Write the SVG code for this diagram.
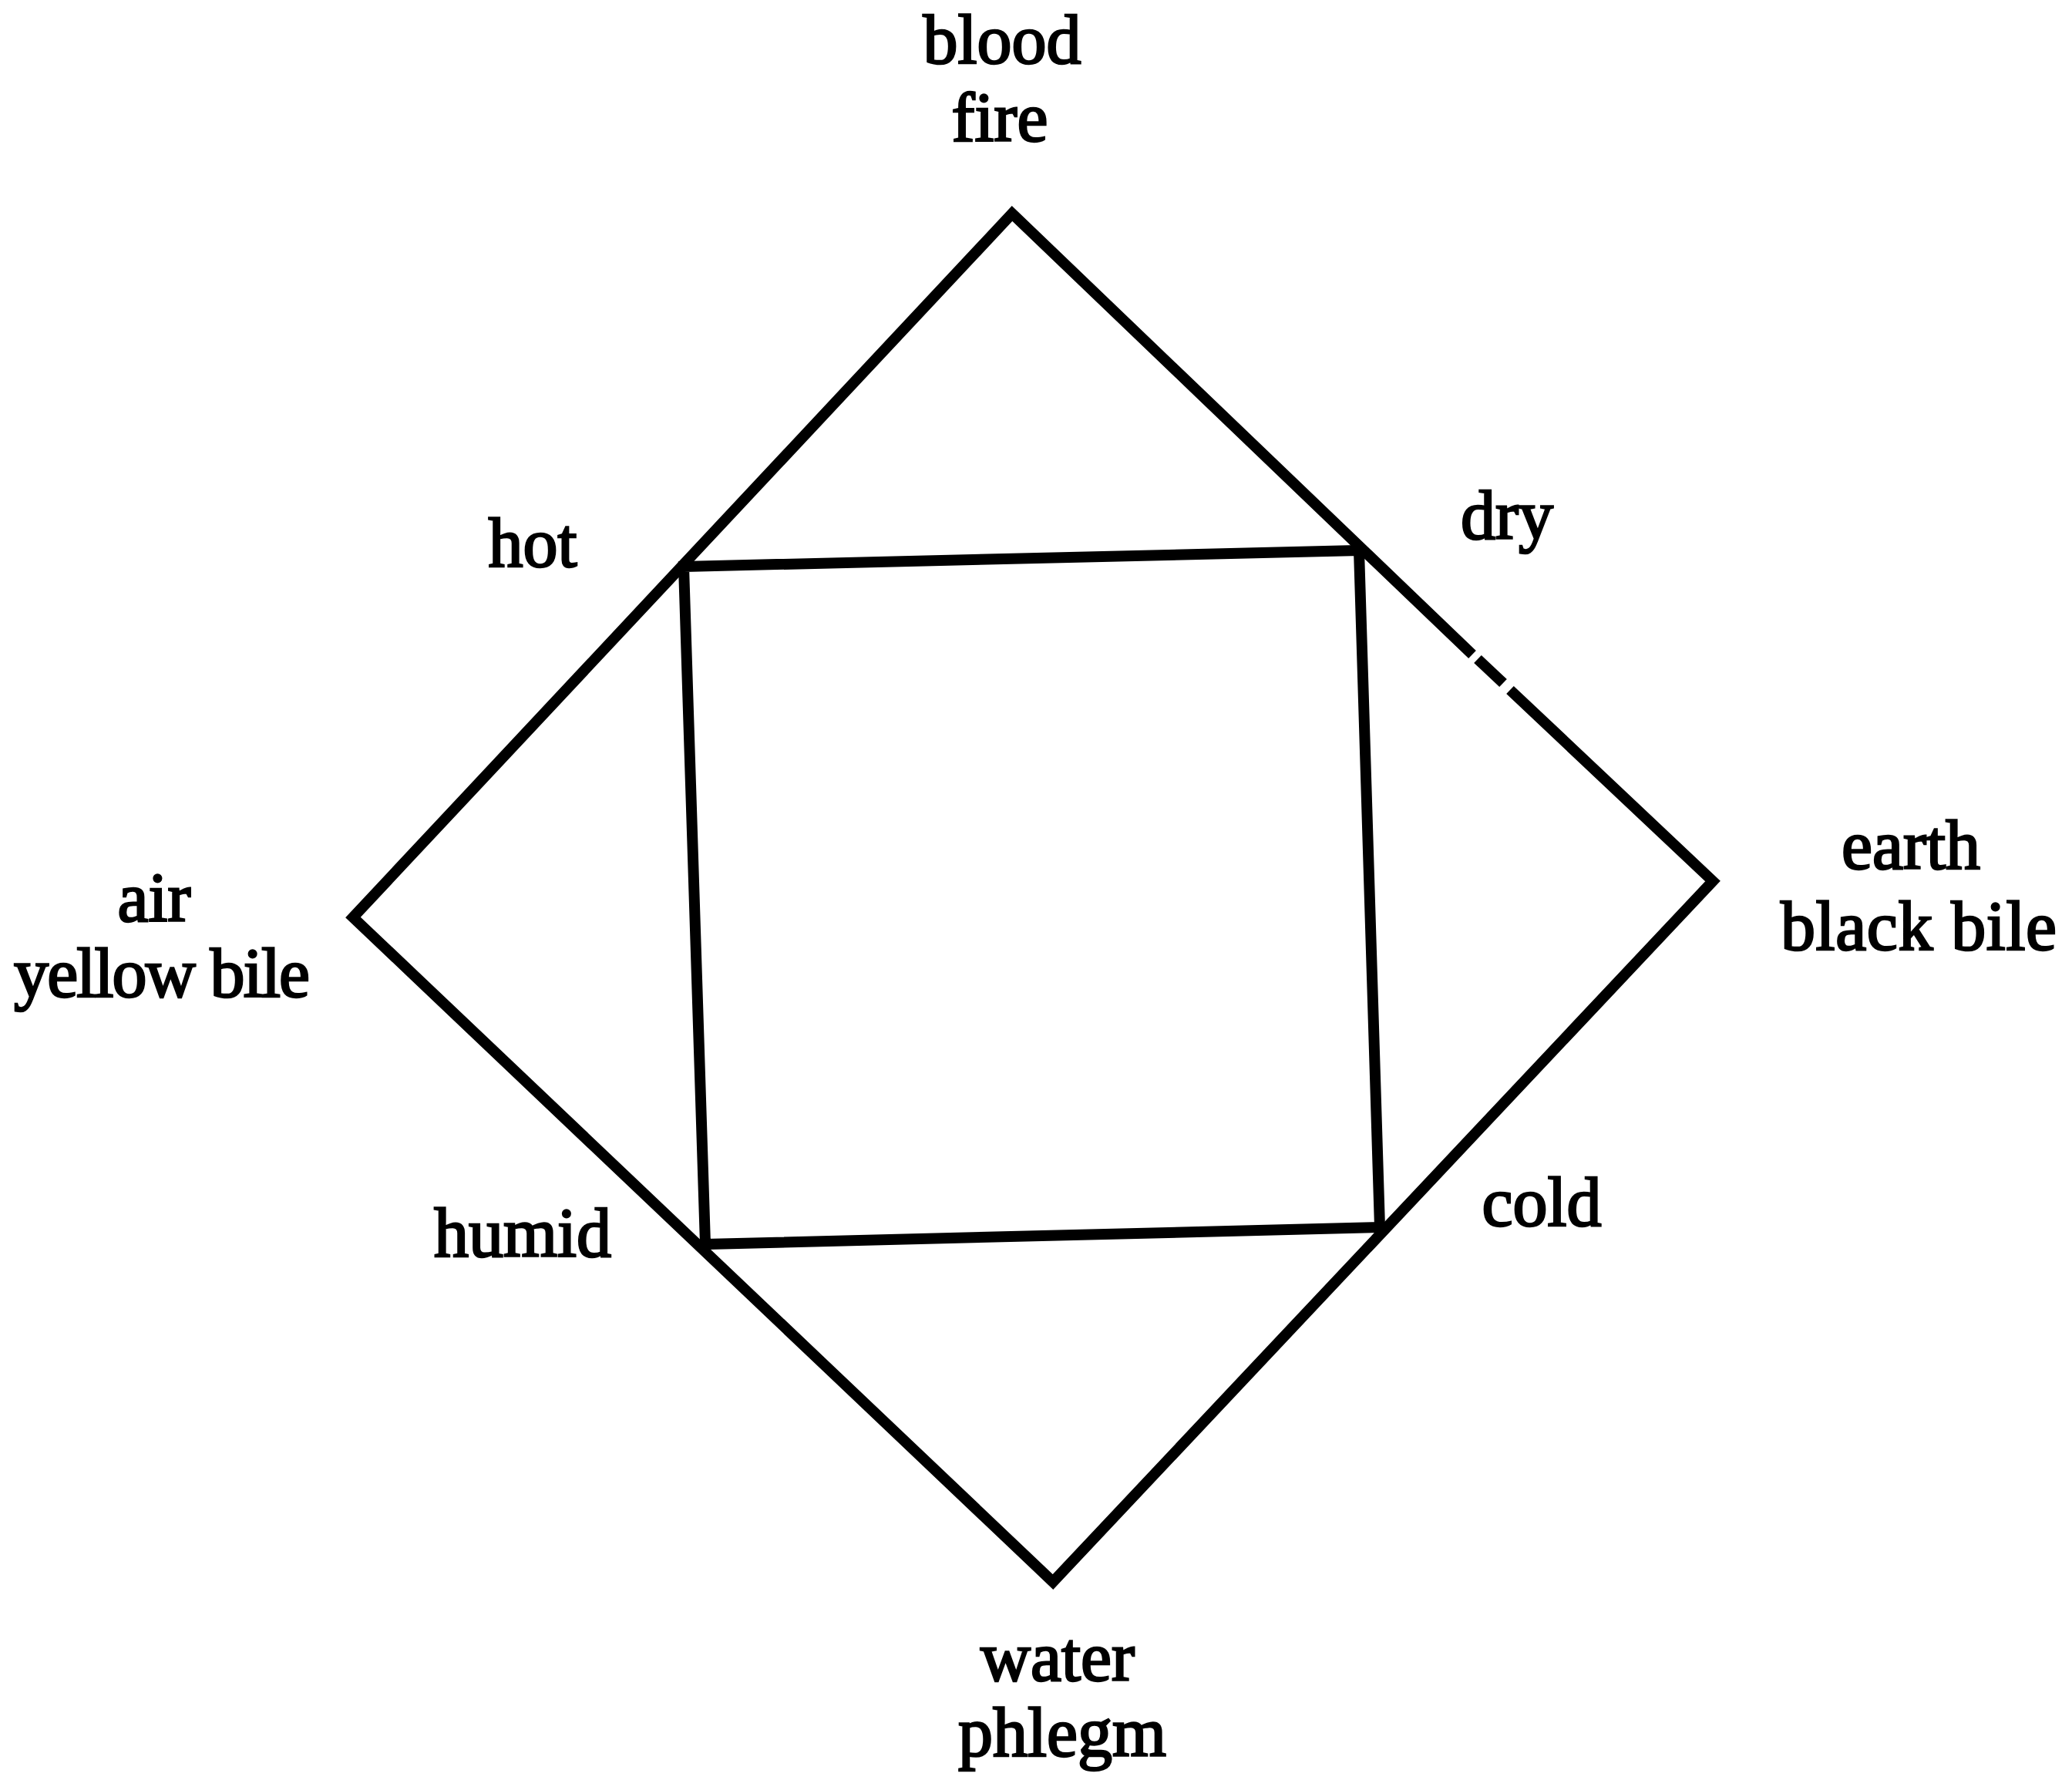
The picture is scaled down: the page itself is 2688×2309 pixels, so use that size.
<svg xmlns="http://www.w3.org/2000/svg" width="2688" height="2309" viewBox="0 0 2688 2309">
<style>
.ln{fill:none;stroke:#000;stroke-width:14;stroke-linejoin:miter;stroke-linecap:butt}
.lb{font-family:"Liberation Serif","Times New Roman",serif;font-size:90px;fill:#000;stroke:#000;stroke-width:2.6;text-anchor:middle}
</style>
<rect width="2688" height="2309" fill="#fff"/>
<g id="connectors">
<path class="ln" d="M1910,849 L1313,277 L458,1190 L1366,2052 L2222,1143 L1959,895"/>
<path class="ln" d="M1917,855 L1950,886"/>
<polygon class="ln" points="887,735 1763,714 1790,1592 915,1614"/>
</g>
<g id="blood-fire"><text class="lb" x="1300" y="82">blood</text><text class="lb" x="1297" y="183">fire</text></g>
<g id="hot"><text class="lb" x="691" y="735">hot</text></g>
<g id="dry"><text class="lb" x="1955" y="699">dry</text></g>
<g id="earth-black-bile"><text class="lb" x="2479" y="1127">earth</text><text class="lb" x="2489" y="1232" textLength="358">black bile</text></g>
<g id="air-yellow-bile"><text class="lb" x="200" y="1195">air</text><text class="lb" x="210" y="1293" textLength="384">yellow bile</text></g>
<g id="humid"><text class="lb" x="678" y="1630">humid</text></g>
<g id="cold"><text class="lb" x="2000" y="1590">cold</text></g>
<g id="water-phlegm"><text class="lb" x="1372" y="2180">water</text><text class="lb" x="1378" y="2278">phlegm</text></g>
</svg>
